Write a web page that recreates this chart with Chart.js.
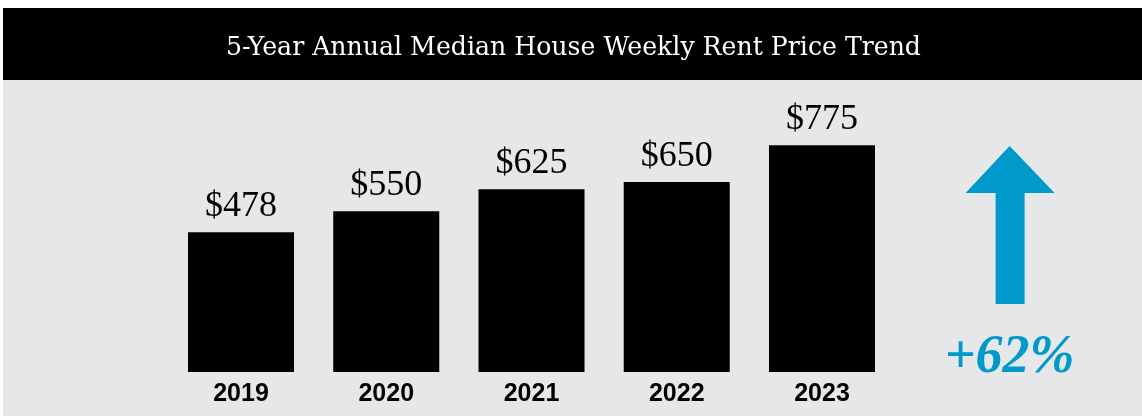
<!DOCTYPE html>
<html>
<head>
<meta charset="utf-8">
<script src="https://cdn.jsdelivr.net/npm/chart.js@4"></script>
<style>
  html, body { margin: 0; padding: 0; background: #fff; }
  #wrap { width: 1142px; height: 416px; position: relative; }
</style>
</head>
<body>
<div id="wrap"><canvas id="rentChart"></canvas></div>
<script>
const anos = ['2019', '2020', '2021', '2022', '2023'];
const alugueis = [478, 550, 625, 650, 775];
const titulo = '5-Year Annual Median House Weekly Rent Price Trend';

const corFundo = '#e6e7e9';
const corAzul = '#0099cc';

// fundo preto com o titulo + area cinza
const fundoPlugin = {
  id: 'fundo',
  beforeDraw(chart) {
    const ctx = chart.ctx;
    ctx.save();
    ctx.fillStyle = '#ffffff';
    ctx.fillRect(0, 0, chart.width, chart.height);
    ctx.fillStyle = '#000000';
    ctx.fillRect(3, 8, chart.width - 3, 72);
    ctx.fillStyle = corFundo;
    ctx.fillRect(3, 80, chart.width - 3, chart.height - 80);

    ctx.fillStyle = '#ffffff';
    ctx.font = '25.2px "DejaVu Serif", serif';
    ctx.textAlign = 'center';
    ctx.textBaseline = 'alphabetic';
    ctx.fillText(titulo, (chart.width + 5) / 2, 55);
    ctx.restore();
  }
};

// rotulos de valor acima das barras + seta de crescimento
const rotulosPlugin = {
  id: 'rotulos',
  afterDatasetsDraw(chart) {
    const ctx = chart.ctx;
    const meta = chart.getDatasetMeta(0);
    ctx.save();
    ctx.fillStyle = '#000';
    ctx.font = '36px "Liberation Serif", serif';
    ctx.textAlign = 'center';
    ctx.textBaseline = 'alphabetic';
    meta.data.forEach((bar, i) => {
      ctx.fillText('$' + alugueis[i], bar.x, bar.y - 16);
    });

    // seta
    const area = chart.chartArea;
    const cx = area.right + 115;
    ctx.fillStyle = corAzul;
    ctx.beginPath();
    ctx.moveTo(cx, 146);
    ctx.lineTo(cx + 45, 193);
    ctx.lineTo(cx + 15, 193);
    ctx.lineTo(cx + 15, 304);
    ctx.lineTo(cx - 14, 304);
    ctx.lineTo(cx - 14, 193);
    ctx.lineTo(cx - 44, 193);
    ctx.closePath();
    ctx.fill();

    const cresc = Math.round((alugueis[alugueis.length - 1] / alugueis[0] - 1) * 100);
    ctx.font = 'italic bold 54px "Liberation Serif", serif';
    ctx.fillText('+' + cresc + '%', cx, area.bottom);
    ctx.restore();
  }
};

const ctxRent = document.getElementById('rentChart');
const rentChart = new Chart(ctxRent, {
  type: 'bar',
  data: {
    labels: anos,
    datasets: [{
      label: 'Weekly rent',
      data: alugueis,
      backgroundColor: '#000000',
      borderWidth: 0,
      barPercentage: 0.73,
      categoryPercentage: 1.0
    }]
  },
  options: {
    responsive: true,
    maintainAspectRatio: false,
    animation: false,
    layout: {
      padding: { left: 168.4, right: 247.4, top: 79.5, bottom: 0 }
    },
    plugins: {
      legend: { display: false },
      tooltip: { enabled: false },
      title: { display: false }
    },
    scales: {
      x: {
        grid: { display: false, drawTicks: false },
        border: { display: false },
        ticks: {
          color: '#000',
          padding: 7,
          font: { family: '"Liberation Sans", Arial, sans-serif', size: 25, weight: 'bold', lineHeight: 1.2 }
        }
      },
      y: {
        display: false,
        min: 0,
        max: 1000
      }
    }
  },
  plugins: [fundoPlugin, rotulosPlugin]
});
</script>
</body>
</html>
